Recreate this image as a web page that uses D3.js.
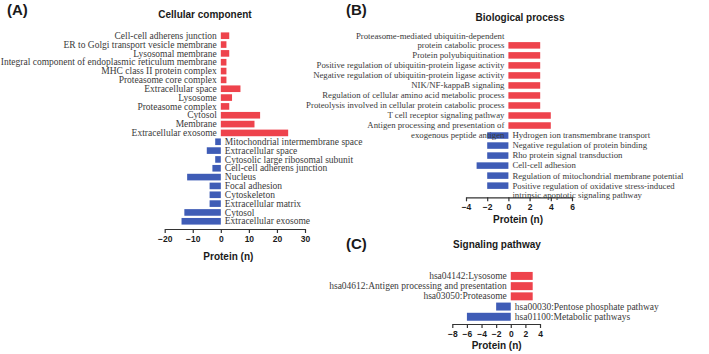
<!DOCTYPE html>
<html lang="en">
<head>
    <meta charset="UTF-8">
    <title>GO and KEGG enrichment</title>
    <script src="https://d3js.org/d3.v7.min.js"></script>
    <style>
        body { margin: 0; background: #fff; }
        svg { display: block; }
        .term { font-family: "Liberation Serif", "Times New Roman", serif; fill: #3a3a3a; }
        .title, .xlabel, .panel { font-family: "Liberation Sans", Arial, sans-serif; font-weight: bold; fill: #1a1a1a; }
        .tick text { font-family: "Liberation Sans", Arial, sans-serif; font-weight: bold; font-size: 8.5px; fill: #1a1a1a; }
        .tick line, .domain { stroke: #333; stroke-width: 1.2; }
    </style>

    <script>
        // (A) cellular component
        const ccTerms = [
            "Cell-cell adherens junction",
            "ER to Golgi transport vesicle membrane",
            "Lysosomal membrane",
            "Integral component of endoplasmic reticulum membrane",
            "MHC class II protein complex",
            "Proteasome core complex",
            "Extracellular space",
            "Lysosome",
            "Proteasome complex",
            "Cytosol",
            "Membrane",
            "Extracellular exosome",
            "Mitochondrial intermembrane space",
            "Extracellular space",
            "Cytosolic large ribosomal subunit",
            "Cell-cell adherens junction",
            "Nucleus",
            "Focal adhesion",
            "Cytoskeleton",
            "Extracellular matrix",
            "Cytosol",
            "Extracellular exosome"
        ];
        const ccValues = [3, 2, 3, 2, 2, 2, 7, 4, 3, 14, 12, 24, -2, -5, -2, -3, -12, -4, -4, -4, -13, -14];
        const ccTicks = [-20, -10, 0, 10, 20, 30];

        // (B) biological process
        const bpTerms = [
            "Proteasome-mediated ubiquitin-dependent\nprotein catabolic process",
            "Protein polyubiquitination",
            "Positive regulation of ubiquitin-protein ligase activity",
            "Negative regulation of ubiquitin-protein ligase activity",
            "NIK/NF-kappaB signaling",
            "Regulation of cellular amino acid metabolic process",
            "Proteolysis involved in cellular protein catabolic process",
            "T cell receptor signaling pathway",
            "Antigen processing and presentation of\nexogenous peptide antigen",
            "Hydrogen ion transmembrane transport",
            "Negative regulation of protein binding",
            "Rho protein signal transduction",
            "Cell-cell adhesion",
            "Regulation of mitochondrial membrane potential",
            "Positive regulation of oxidative stress-induced\nintrinsic apoptotic signaling pathway"
        ];
        const bpValues = [3, 3, 3, 3, 3, 3, 3, 4, 4, -2, -2, -2, -3, -2, -2];
        const bpTicks = [-4, -2, 0, 2, 4, 6];

        // (C) signaling pathway
        const spTerms = [
            "hsa04142:Lysosome",
            "hsa04612:Antigen processing and presentation",
            "hsa03050:Proteasome",
            "hsa00030:Pentose phosphate pathway",
            "hsa01100:Metabolic pathways"
        ];
        const spValues = [3, 3, 3, -2, -6];
        const spTicks = [-8, -6, -4, -2, 0, 2, 4];

        const RED = "#ee434c";
        const BLUE = "#3f5cb6";

        function drawPanel(svg, terms, values, ticks, o) {
            const x = d3.scaleLinear()
                .domain([ticks[0], ticks[ticks.length - 1]])
                .range([o.left, o.right]);
            const y = d3.scaleBand()
                .domain(d3.range(terms.length))
                .range([o.top, o.bottom])
                .padding(o.pad);

            const g = svg.append("g");

            g.selectAll("rect")
                .data(values)
                .enter().append("rect")
                .attr("x", function(d) { return Math.min(x(0), x(d)); })
                .attr("y", function(d, i) { return y(i); })
                .attr("width", function(d) { return Math.abs(x(d) - x(0)); })
                .attr("height", y.bandwidth())
                .attr("fill", function(d) { return d > 0 ? RED : BLUE; });

            const lineH = o.font * 1.05;
            g.selectAll("text.term")
                .data(terms)
                .enter().append("text")
                .attr("class", "term")
                .style("font-size", o.font + "px")
                .attr("text-anchor", function(d, i) { return values[i] > 0 ? "end" : "start"; })
                .each(function(d, i) {
                    const lines = d.split("\n");
                    const cx = values[i] > 0 ? x(0) - 4 : x(0) + 4;
                    const cy = y(i) + y.bandwidth() / 2;
                    // top row of a panel hangs its label upward, others hang down
                    const first = i === 0 ? cy - (lines.length - 1) * lineH : cy;
                    lines.forEach(function(line, k) {
                        d3.select(this).append("tspan")
                            .attr("x", cx)
                            .attr("y", first + k * lineH)
                            .attr("dy", "0.33em")
                            .text(line);
                    }, this);
                });

            g.append("g")
                .attr("transform", "translate(0," + o.axisY + ")")
                .call(d3.axisBottom(x).tickValues(ticks).tickSize(4).tickSizeOuter(0).tickPadding(3));

            g.append("text").attr("class", "title")
                .attr("x", o.titleX).attr("y", o.titleY)
                .attr("text-anchor", "middle").style("font-size", "10px")
                .text(o.title);

            g.append("text").attr("class", "xlabel")
                .attr("x", x(ticks[0]) + (x(ticks[ticks.length - 1]) - x(ticks[0])) / 2 + o.labelShift)
                .attr("y", o.labelY)
                .attr("text-anchor", "middle").style("font-size", "10px")
                .text("Protein (n)");

            g.append("text").attr("class", "panel")
                .attr("x", o.letterX).attr("y", o.letterY)
                .style("font-size", "15px")
                .text(o.letter);
        }

        document.addEventListener("DOMContentLoaded", function() {
            const svg = d3.select("svg").attr("width", 709).attr("height", 354);

            drawPanel(svg, ccTerms, ccValues, ccTicks, {
                left: 164.7, right: 305, top: 30.2, bottom: 226.8, pad: 0.25,
                axisY: 229, font: 9.5, title: "Cellular component", titleX: 205, titleY: 18,
                labelY: 260, labelShift: -6.5, letter: "(A)", letterX: 7, letterY: 15
            });

            drawPanel(svg, bpTerms, bpValues, bpTicks, {
                left: 466, right: 572, top: 38.6, bottom: 192.4, pad: 0.35,
                axisY: 197.3, font: 8.75, title: "Biological process", titleX: 520, titleY: 20.5,
                labelY: 223, labelShift: -1, letter: "(B)", letterX: 346, letterY: 15
            });

            drawPanel(svg, spTerms, spValues, spTicks, {
                left: 452.3, right: 540, top: 269.7, bottom: 323, pad: 0.22,
                axisY: 324, font: 9.5, title: "Signaling pathway", titleX: 497, titleY: 248,
                labelY: 349, labelShift: 0.5, letter: "(C)", letterX: 346, letterY: 249
            });
        });
    </script>
</head>
<body>
    <svg></svg>
</body>
</html>
